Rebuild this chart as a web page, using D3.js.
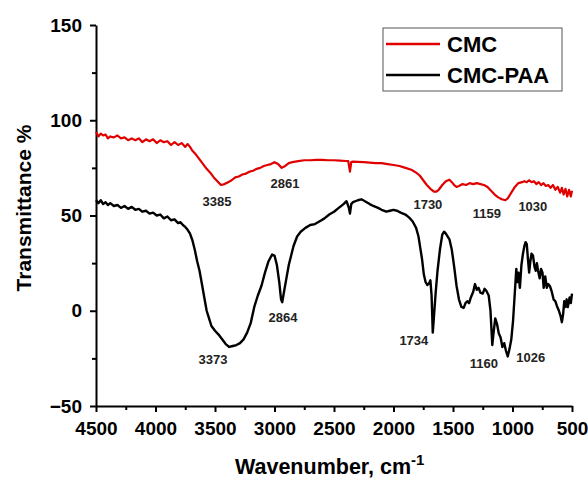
<!DOCTYPE html>
<html>
<head>
<meta charset="utf-8">
<script src="https://cdn.jsdelivr.net/npm/d3@7"></script>
<style>
  body { margin: 0; background: #fff; }
  svg { font-family: "Liberation Sans", Arial, sans-serif; font-weight: bold; }
</style>
</head>
<body>
<svg width="588" height="480"></svg>
<script>
var width = 588, height = 480;

// CMC spectrum (wavenumber, transmittance)
var cmcWn = [4500,4480,4460,4440,4420,4400,4380,4350,4320,4290,4260,4230,4200,4170,4140,4110,4080,4050,4020,3990,3960,3930,3900,3870,3840,3810,3780,3750,3730,3710,3690,3660,3630,3600,3570,3540,3510,3480,3450,3420,3390,3360,3330,3300,3270,3240,3210,3180,3150,3120,3090,3060,3030,3000,2970,2940,2910,2880,2850,2800,2750,2700,2650,2600,2550,2500,2450,2400,2380,2366,2355,2340,2300,2250,2200,2150,2100,2050,2000,1950,1900,1850,1810,1780,1750,1720,1690,1660,1640,1620,1590,1560,1530,1510,1490,1470,1450,1420,1390,1360,1330,1300,1270,1240,1210,1180,1150,1120,1090,1060,1040,1010,980,950,920,900,880,860,840,820,800,780,760,740,720,700,680,660,640,620,600,585,570,555,540,525,510,500];
var cmcT = [94,91.5,93,92,92.5,90.5,91.5,91,92,90.5,91,89.5,90.5,89.5,90.5,88.5,90,89,90,88,89.5,88.5,89,87,88.5,87,88,86,87.5,86,84,82,79.5,77,74.5,72.5,70,68,66,66.5,67.5,68.5,70,70.5,71.5,72,73,73.5,74.5,75,76,76.5,77,78,77,75,76,77.5,78,78.5,79,79,79.2,79.2,79,79,78.8,78.6,78.5,73,78,78.3,78.2,78,77.8,77.5,77.5,77,76.5,76,75,74,72.5,71,68.5,66,64,62.5,62.5,63.5,66,68,68.8,67.5,66,65,65.5,66.5,66,67,66.5,67,66.5,66,65,63,61,59.5,58.5,58,59,62,65,67,67.5,68,67.5,68.5,67.5,68,66.5,67.5,66,67,65.5,66,64.5,66,63.5,65,62,64.5,61,64,60,63.5,60,63];

// CMC-PAA spectrum
var paaWn = [4500,4480,4460,4440,4420,4400,4380,4350,4320,4290,4260,4230,4200,4170,4140,4110,4080,4050,4020,3990,3960,3930,3900,3870,3840,3810,3790,3770,3750,3730,3710,3690,3670,3650,3630,3610,3590,3570,3550,3530,3500,3470,3440,3410,3380,3350,3320,3290,3260,3230,3200,3170,3140,3110,3080,3050,3020,3000,2980,2960,2945,2935,2920,2900,2880,2860,2840,2810,2780,2740,2700,2660,2620,2580,2540,2500,2460,2420,2395,2375,2366,2355,2340,2300,2270,2240,2200,2170,2130,2100,2060,2030,2000,1970,1940,1900,1870,1840,1810,1790,1775,1760,1745,1730,1715,1700,1690,1680,1670,1660,1645,1630,1610,1590,1575,1560,1530,1510,1490,1470,1450,1430,1410,1395,1380,1365,1350,1330,1315,1300,1285,1270,1250,1235,1220,1200,1185,1170,1160,1145,1130,1115,1100,1085,1070,1055,1040,1025,1010,995,980,968,960,950,938,925,912,900,890,880,870,860,850,840,828,815,805,795,785,772,760,748,738,725,712,700,686,670,655,640,627,610,595,585,575,565,555,545,535,520,510,500];
var paaT = [58,56.5,58,56,57,55.5,56.5,55,55.5,54,55,53.5,54.5,53,53.5,52,52.5,51,51.5,50,50.5,48.5,49.5,47.5,48,46,46.5,45,44,42.5,40.5,37,32,26,21,14,7,0,-4,-8,-10.5,-12.5,-15,-17.5,-19,-18.5,-18,-17,-15,-11.5,-6.5,2,8,13,20,26,29.5,29,24,15,6,4.5,10,17,24,29,34,39,41.5,43.5,45,45.5,47,48.5,50.5,52,54,56,57.5,54,51,56,57,58,58.5,57.5,56,55,54,53,52,52.5,53,52.5,51.5,50.5,49,47,43.5,39,33,27,19,15,13.5,14.5,16,8,-11.5,-3,10,21,32,40,41.5,40.5,37.5,32,23,13,6,2,1.5,4,5,4,7,10,14,11,12,9.5,9,11.5,10.5,8,0,-18,-12,-4,-7,-12,-14,-19,-17,-21,-24,-20,-15,-5,10,22,15,20,12,24,30,34,36,35,27,20,26,30,29,23,21,25,21,17,22,20,12,18,12,14,13,10,6,5,2.5,0,-3,-6,-2,5,2,6,2,7,4,9];

// peak labels: text, wavenumber, transmittance
var cmcLabels = ["3385","2861","1730","1159","1030"];
var cmcLabelWn = [3484,2912,1711,1216,829];
var cmcLabelT = [57.6,67,56,51.3,54.5];
var paaLabels = ["3373","2864","1734","1160","1026"];
var paaLabelWn = [3517,2929,1829,1241,846];
var paaLabelT = [-25.4,-3.3,-15.4,-27.5,-24.3];

var xMajor = [4500,4000,3500,3000,2500,2000,1500,1000,500];
var xMinor = [4250,3750,3250,2750,2250,1750,1250,750];
var yMajor = [-50,0,50,100,150];
var yMinor = [-25,25,75,125];

var seriesNames = ["CMC","CMC-PAA"];
var seriesColors = ["#e00000","#000000"];

var svg = d3.select('svg');

var x = d3.scaleLinear().domain([4500,500]).range([96,572]);
var y = d3.scaleLinear().domain([-50,150]).range([406,25]);

function pairs(wn, t) {
    return wn.map(function(d, i) { return [d, t[i]]; });
}

var line = d3.line()
    .x(function(d) { return x(d[0]); })
    .y(function(d) { return y(d[1]); });

// axes
svg.append('g')
    .attr('transform', 'translate(0,406)')
    .call(d3.axisBottom(x).tickValues(xMajor).tickSize(6).tickSizeOuter(0).tickPadding(10).tickFormat(d3.format('d')));
svg.append('g')
    .attr('transform', 'translate(0,406)')
    .call(d3.axisBottom(x).tickValues(xMinor).tickSize(4).tickFormat(''))
    .select('.domain').remove();

svg.append('g')
    .attr('transform', 'translate(96,0)')
    .call(d3.axisLeft(y).tickValues(yMajor).tickSize(6).tickSizeOuter(0).tickPadding(8));
svg.append('g')
    .attr('transform', 'translate(96,0)')
    .call(d3.axisLeft(y).tickValues(yMinor).tickSize(4).tickFormat(''))
    .select('.domain').remove();

svg.selectAll('.domain').attr('stroke', '#000').attr('stroke-width', 2);
svg.selectAll('.tick line').attr('stroke', '#000').attr('stroke-width', 2);
svg.selectAll('.tick text')
    .attr('fill', '#000')
    .style('font-family', '"Liberation Sans", Arial, sans-serif')
    .style('font-weight', 'bold')
    .style('font-size', '19px');

// axis titles
svg.append('text')
    .attr('x', 235).attr('y', 474)
    .style('font-size', '21.5px')
    .text('Wavenumber, cm')
    .append('tspan')
    .attr('dy', -9)
    .style('font-size', '15px')
    .text('-1');

svg.append('text')
    .attr('transform', 'translate(31,208)rotate(-90)')
    .attr('text-anchor', 'middle')
    .style('font-size', '21px')
    .text('Transmittance %');

// spectra
var series = [pairs(cmcWn, cmcT), pairs(paaWn, paaT)];
svg.selectAll('path.spec')
    .data(series)
    .enter()
    .append('path')
    .attr('class', 'spec')
    .attr('d', line)
    .attr('fill', 'none')
    .attr('stroke', function(d, i) { return seriesColors[i]; })
    .attr('stroke-width', function(d, i) { return i == 0 ? 2.2 : 2.4; })
    .attr('stroke-linejoin', 'round');

// peak labels
function addLabels(txt, wn, t) {
    svg.append('g').selectAll('text')
        .data(txt)
        .enter()
        .append('text')
        .attr('x', function(d, i) { return x(wn[i]); })
        .attr('y', function(d, i) { return y(t[i]); })
        .attr('dy', '0.35em')
        .attr('text-anchor', 'middle')
        .attr('fill', '#222')
        .style('font-size', '13px')
        .text(function(d) { return d; });
}
addLabels(cmcLabels, cmcLabelWn, cmcLabelT);
addLabels(paaLabels, paaLabelWn, paaLabelT);

// legend
var legend = svg.append('g').attr('transform', 'translate(383,28)');
legend.append('rect')
    .attr('width', 179).attr('height', 63)
    .attr('fill', '#fff')
    .attr('stroke', '#555').attr('stroke-width', 1);
var items = legend.selectAll('g.item')
    .data(seriesNames)
    .enter()
    .append('g')
    .attr('transform', function(d, i) { return 'translate(0,' + (16 + i * 31) + ')'; });
items.append('line')
    .attr('x1', 3).attr('x2', 57)
    .attr('stroke', function(d, i) { return seriesColors[i]; })
    .attr('stroke-width', 2.5);
items.append('text')
    .attr('x', 64).attr('dy', '0.36em')
    .style('font-size', '22px')
    .text(function(d) { return d; });
</script>
</body>
</html>
